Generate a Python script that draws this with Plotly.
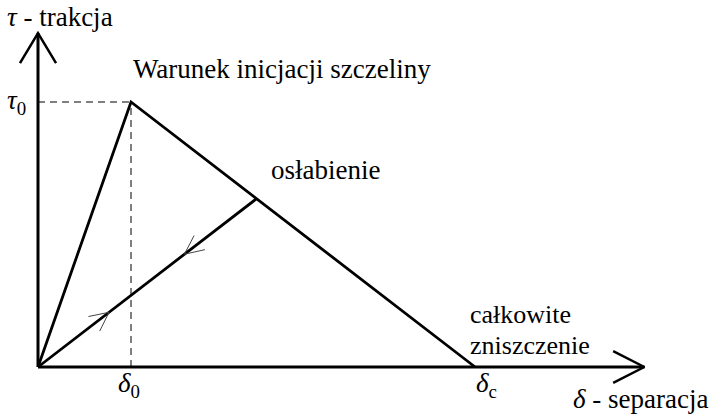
import numpy as np
import plotly.graph_objects as go

# Bilinear traction-separation law, normalised so that delta_0 = 1 and tau_0 = 1
delta_keys = [0.0, 1.0, 4.7]      # origin, damage initiation, complete failure
tau_keys = [0.0, 1.0, 0.0]
delta_unload = 2.35               # separation at which the element unloads
tau_unload = float(np.interp(delta_unload, delta_keys, tau_keys))

# axis extents (arrow tips) in normalised units
x_axis_end = 6.52
y_axis_end = 1.26

# screen scale of one unit (px), used to keep arrowheads undistorted
SX, SY = 93.0, 265.0

BLACK = "black"
FONT = "Liberation Serif"


def arrow_head(tip_x, tip_y, from_x, from_y, length_px, half_angle_deg):
    """Return the two arms of an open 'V' arrowhead pointing at (tip_x, tip_y)."""
    dx = (from_x - tip_x) * SX
    dy = (from_y - tip_y) * SY
    base = np.arctan2(dy, dx)
    arms = []
    for s in (-1, 1):
        a = base + s * np.radians(half_angle_deg)
        arms.append((tip_x + length_px * np.cos(a) / SX,
                     tip_y + length_px * np.sin(a) / SY))
    xs = [arms[0][0], tip_x, arms[1][0]]
    ys = [arms[0][1], tip_y, arms[1][1]]
    return xs, ys


fig = go.Figure()


def add_line(xs, ys, width=2.8, color=BLACK, dash=None):
    fig.add_trace(go.Scatter(
        x=xs, y=ys, mode="lines", hoverinfo="skip", showlegend=False,
        line=dict(color=color, width=width, dash=dash)))


# coordinate axes with open arrowheads
add_line([0, 0], [0, y_axis_end], width=3)
add_line([0, x_axis_end], [0, 0], width=3)
hx, hy = arrow_head(0, y_axis_end, 0, 0, 35, 31)
add_line(hx, hy, width=2.5)
hx, hy = arrow_head(x_axis_end, 0, 0, 0, 35, 27)
add_line(hx, hy, width=2.5)

# guide lines to the initiation point
add_line([0, delta_keys[1]], [tau_keys[1], tau_keys[1]], width=1, dash="7px,5px")
add_line([delta_keys[1], delta_keys[1]], [0, tau_keys[1]], width=1, dash="7px,5px")

# loading / softening envelope
add_line(delta_keys, tau_keys)

# unloading / reloading path through the origin
add_line([0, delta_unload], [0, tau_unload])

# direction markers on the unloading path
t_up, t_down = 0.325, 0.67
hx, hy = arrow_head(delta_unload * t_up, tau_unload * t_up, 0, 0, 21, 26)
add_line(hx, hy, width=1, color="#444444")
hx, hy = arrow_head(delta_unload * t_down, tau_unload * t_down,
                    delta_unload, tau_unload, 21, 25)
add_line(hx, hy, width=1, color="#444444")


def label(text, x, y, size=27):
    fig.add_annotation(x=x, y=y, xref="x", yref="y", text=text, showarrow=False,
                       xanchor="left", yanchor="middle",
                       font=dict(family=FONT, size=size, color=BLACK))


label("<i>τ</i> - trakcja", -0.36, 1.32)
label("<i>τ</i><sub>0</sub>", -0.35, 1.0)
label("Warunek inicjacji szczeliny", 1.0, 1.125)
label("osłabienie", 2.48, 0.745)
label("całkowite", 4.62, 0.198, size=26)
label("zniszczenie", 4.62, 0.081, size=26)
label("<i>δ</i><sub>0</sub>", 0.84, -0.068)
label("<i>δ</i><sub>c</sub>", 4.69, -0.068)
label("<i>δ</i> - separacja", 5.73, -0.12)

fig.update_layout(
    width=719, height=417,
    margin=dict(l=0, r=0, t=0, b=0),
    paper_bgcolor="white", plot_bgcolor="white",
    xaxis=dict(range=[-38 / SX, (719 - 38) / SX], visible=False, fixedrange=True),
    yaxis=dict(range=[-50 / SY, 367 / SY], visible=False, fixedrange=True),
)

fig.write_html("out.html")
